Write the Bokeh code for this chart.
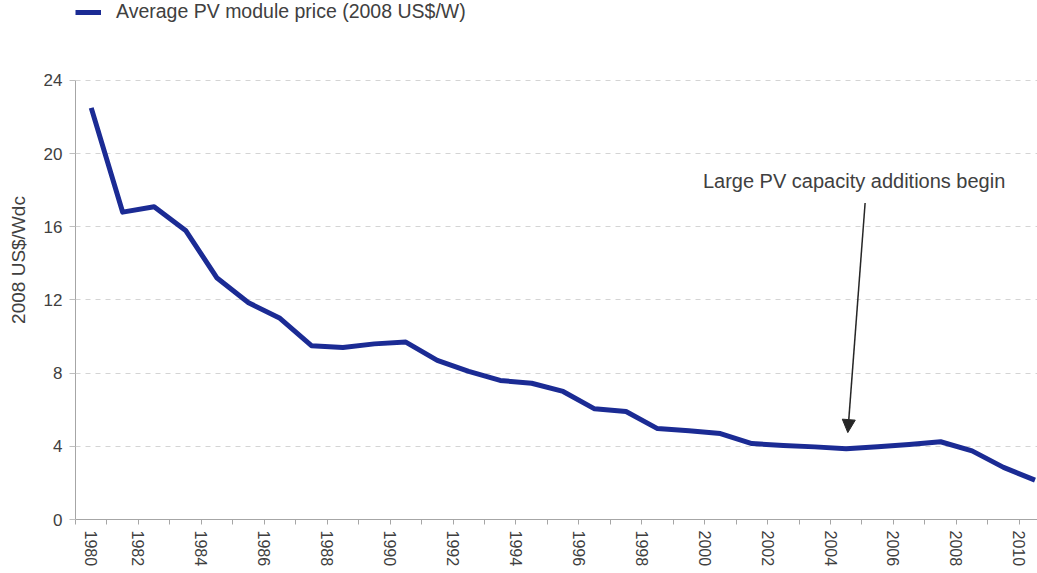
from bokeh.plotting import figure
from bokeh.models import Range1d, FixedTicker, Arrow, NormalHead, Label
from bokeh.embed import file_html
from bokeh.resources import INLINE

# ---- data ----
years = list(range(1980, 2011))
prices = [22.5, 16.8, 17.1, 15.8, 13.2, 11.85, 11.0, 9.5, 9.4, 9.6, 9.7,
          8.7, 8.1, 7.6, 7.45, 7.0, 6.05, 5.9, 4.97, 4.85, 4.7,
          4.15, 4.05, 3.97, 3.87, 3.98, 4.1, 4.25, 3.75, 2.85, 2.15]
series_name = "Average PV module price (2008 US$/W)"
y_label = "2008 US$/Wdc"
y_ticks = [0, 4, 8, 12, 16, 20, 24]
x_label_years = list(range(1980, 2011, 2))
annotation_text = "Large PV capacity additions begin"
annot_year = 2004.5

FONT = "Liberation Sans"
TEXT_COL = "#404040"
AXIS_COL = "#a6a6a6"
LINE_COL = "#1b2b94"

# points sit mid-year
xs = [y + 0.5 for y in years]

p = figure(width=1037, height=573, output_backend="svg", toolbar_location=None,
           x_range=Range1d(1980, 2010.58), y_range=Range1d(0, 28.37),
           min_border_left=75, min_border_right=0, min_border_top=0, min_border_bottom=54)
p.outline_line_color = None
p.background_fill_color = "white"
p.border_fill_color = "white"

p.line(xs, prices, line_color=LINE_COL, line_width=5, legend_label=series_name,
       line_join="round")

# y axis
ya = p.yaxis[0]
ya.ticker = FixedTicker(ticks=y_ticks)
ya.bounds = (0, 24)
ya.axis_line_color = AXIS_COL
ya.major_tick_line_color = "#bfbfbf"
ya.major_tick_out = 6
ya.major_tick_in = 0
ya.minor_tick_line_color = None
ya.major_label_text_font = FONT
ya.major_label_text_font_size = "17px"
ya.major_label_text_color = TEXT_COL
ya.major_label_standoff = 7
ya.axis_label = y_label
ya.axis_label_text_font = FONT
ya.axis_label_text_font_size = "19px"
ya.axis_label_text_font_style = "normal"
ya.axis_label_text_color = TEXT_COL
ya.axis_label_standoff = 12

# x axis: label positions (first label sits mid-first-year), tick marks every year
major = [x_label_years[0] + 0.5] + x_label_years[1:]
xa = p.xaxis[0]
xa.ticker = FixedTicker(ticks=major, minor_ticks=years)
xa.major_label_overrides = {m: str(lbl) for m, lbl in zip(major, x_label_years)}
xa.axis_line_color = AXIS_COL
xa.major_tick_line_color = None
xa.major_tick_out = 5
xa.major_tick_in = 0
xa.minor_tick_line_color = AXIS_COL
xa.minor_tick_out = 5
xa.minor_tick_in = 0
xa.major_label_orientation = "vertical"
xa.major_label_text_font = FONT
xa.major_label_text_font_size = "16px"
xa.major_label_text_color = TEXT_COL
xa.major_label_standoff = 6

# grid
p.xgrid.visible = False
p.ygrid.ticker = FixedTicker(ticks=y_ticks)
p.ygrid.grid_line_color = "#d4d4d4"
p.ygrid.grid_line_dash = "5 5"
p.ygrid.grid_line_width = 1

# annotation
p.add_layout(Arrow(end=NormalHead(size=13, fill_color="#262626", line_color="#262626"),
                   x_start=annot_year + 0.6, y_start=17.3,
                   x_end=annot_year + 0.05, y_end=4.75,
                   line_color="#262626", line_width=1.5))
p.add_layout(Label(x=annot_year + 0.25, y=18.5, text=annotation_text,
                   text_align="center", text_baseline="middle",
                   text_font=FONT, text_font_size="20px", text_color=TEXT_COL))

# legend
lg = p.legend[0]
lg.location = "top_left"
lg.margin = 0
lg.padding = 0
lg.border_line_color = None
lg.background_fill_alpha = 0
lg.glyph_width = 26
lg.glyph_height = 20
lg.label_height = 20
lg.label_standoff = 15
lg.label_text_font = FONT
lg.label_text_font_size = "19.5px"
lg.label_text_color = TEXT_COL

open("out.html", "w").write(file_html(p, INLINE))
